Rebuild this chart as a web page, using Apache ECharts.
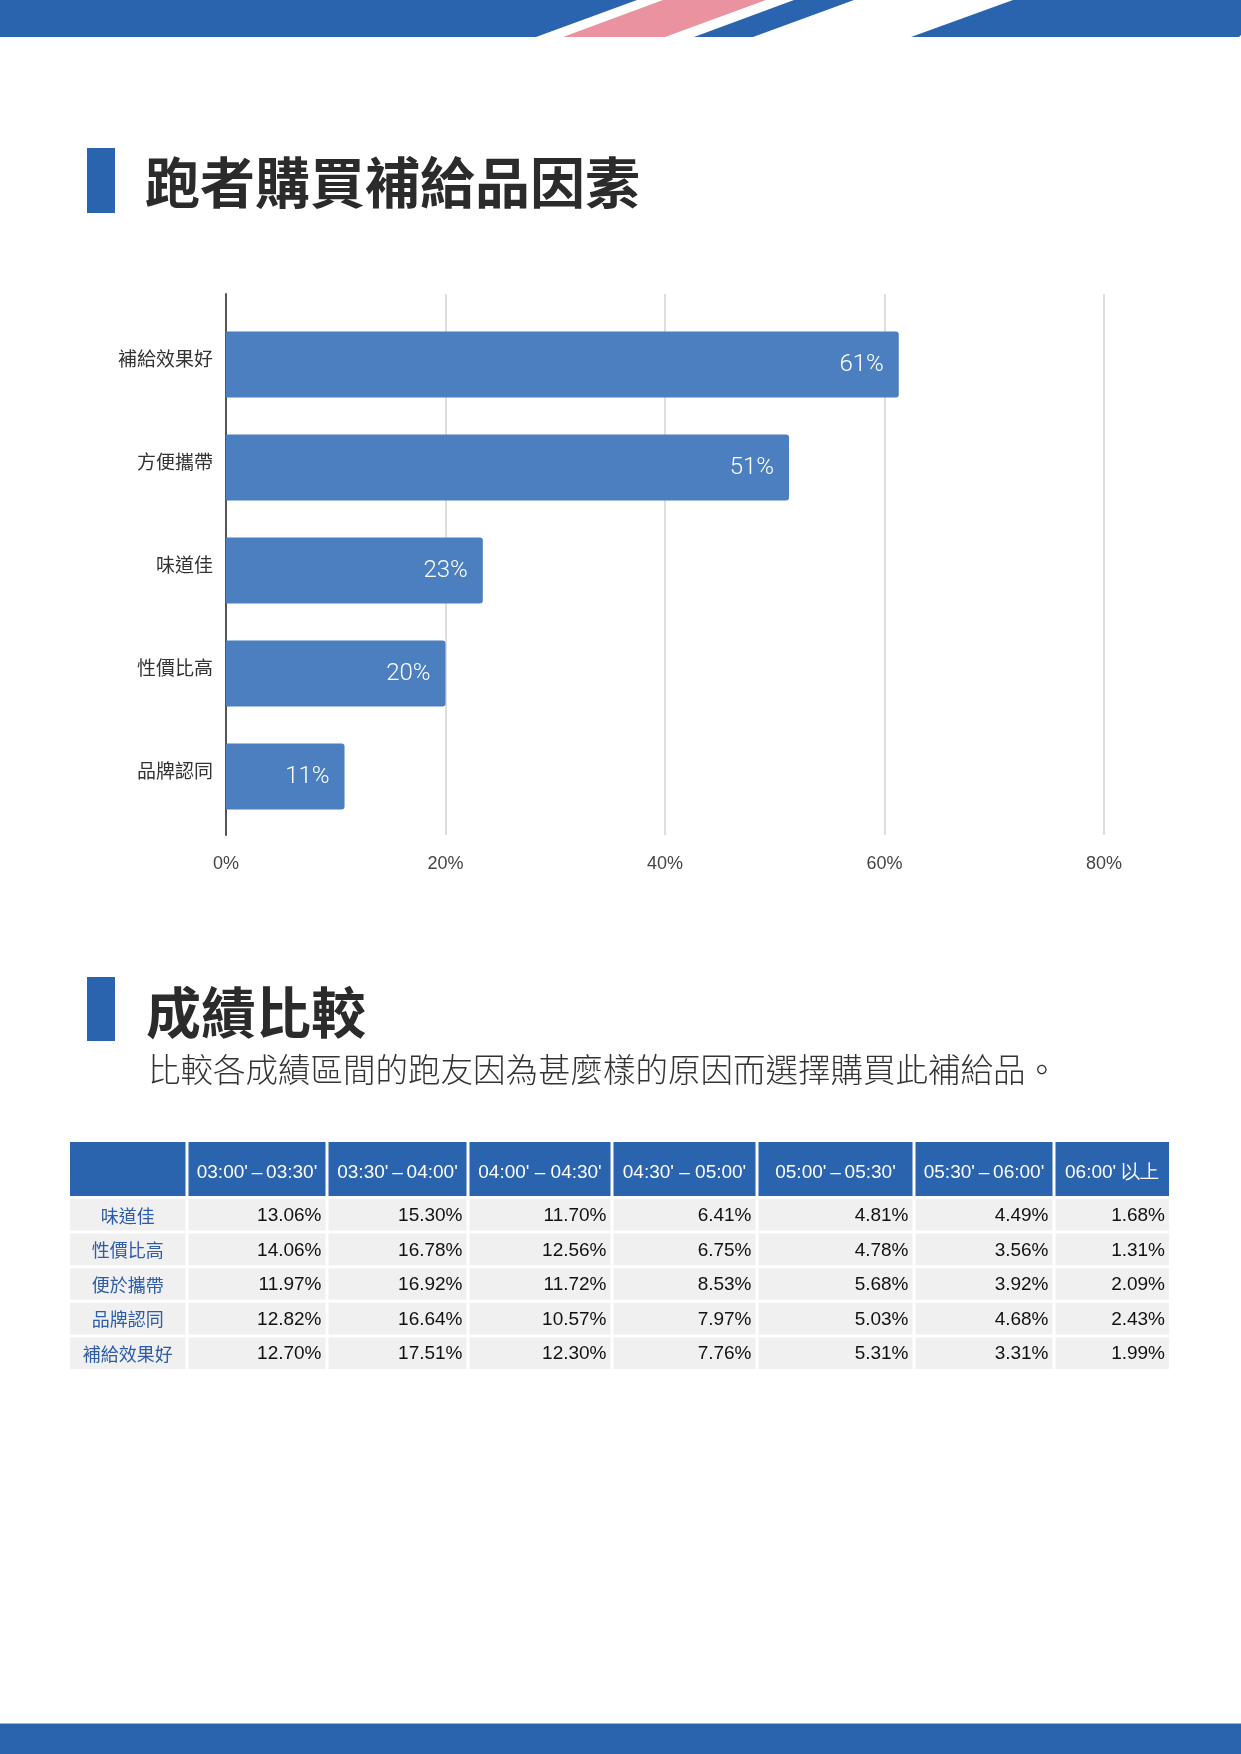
<!DOCTYPE html>
<html>
<head>
<meta charset="utf-8">
<script src="https://cdn.jsdelivr.net/npm/echarts@6/dist/echarts.min.js"></script>
<style>
html,body{margin:0;padding:0;background:#fff;}
#c{width:1241px;height:1754px;}
</style>
</head>
<body>
<div id="c"></div>
<script>
// ---------- data ----------
const factorCategories = ['補給效果好', '方便攜帶', '味道佳', '性價比高', '品牌認同'];
const factorValues = [61.3, 51.3, 23.4, 20.0, 10.8];
const axisTicks = [0, 20, 40, 60, 80];

const timeBands = ["03:00'\u2009–\u200903:30'", "03:30'\u2009–\u200904:00'", "04:00' – 04:30'", "04:30' – 05:00'", "05:00'\u2009–\u200905:30'", "05:30'\u2009–\u200906:00'", "06:00' 以上"];
const tableRows = ['味道佳', '性價比高', '便於攜帶', '品牌認同', '補給效果好'];
const rowTaste   = ['13.06%', '15.30%', '11.70%', '6.41%', '4.81%', '4.49%', '1.68%'];
const rowValue   = ['14.06%', '16.78%', '12.56%', '6.75%', '4.78%', '3.56%', '1.31%'];
const rowCarry   = ['11.97%', '16.92%', '11.72%', '8.53%', '5.68%', '3.92%', '2.09%'];
const rowBrand   = ['12.82%', '16.64%', '10.57%', '7.97%', '5.03%', '4.68%', '2.43%'];
const rowEffect  = ['12.70%', '17.51%', '12.30%', '7.76%', '5.31%', '3.31%', '1.99%'];
const tableValues = [rowTaste, rowValue, rowCarry, rowBrand, rowEffect];

// ---------- layout (not data) ----------
const BLUE = '#2a63ae';
const colEdges = [0, 117, 257, 398, 542, 687, 844, 984, 1099];
const headerH = 54, bodyTop = 57, rowPitch = 34.6, rowH = 31.6;

// build table cells
const cells = [];
timeBands.forEach((t, c) => cells.push({ value: [c + 1, 0], kind: 'head', text: t }));
cells.push({ value: [0, 0], kind: 'head', text: '' });
tableRows.forEach((name, r) => {
  cells.push({ value: [0, r + 1], kind: 'label', text: name });
  tableValues[r].forEach((v, c) => cells.push({ value: [c + 1, r + 1], kind: 'num', text: v }));
});

const chart = echarts.init(document.getElementById('c'), null, { renderer: 'canvas' });

function renderCell(params, api) {
  const cell = cells[params.dataIndex];
  const c = api.value(0), r = api.value(1);
  const x0 = colEdges[c] + (c > 0 ? 1.5 : 0);
  const x1 = colEdges[c + 1] - (c < colEdges.length - 2 ? 1.5 : 0);
  let y0, y1;
  if (r === 0) { y0 = 0; y1 = headerH; } else { y0 = bodyTop + (r - 1) * rowPitch; y1 = y0 + rowH; }
  const p0 = api.coord([x0, y0]);
  const p1 = api.coord([x1, y1]);
  const w = p1[0] - p0[0], h = p1[1] - p0[1];
  const children = [{
    type: 'rect',
    shape: { x: p0[0], y: p0[1], width: w, height: h },
    style: { fill: cell.kind === 'head' ? BLUE : '#f0f0f0' }
  }];
  if (cell.text) {
    let tx, align, fill, font;
    if (cell.kind === 'head') {
      tx = p0[0] + w / 2; align = 'center'; fill = '#ffffff';
      font = '19px "Liberation Sans", Arial, sans-serif';
    } else if (cell.kind === 'label') {
      tx = p0[0] + w / 2; align = 'center'; fill = '#2e5ca8';
      font = '18px "Noto Sans CJK TC", sans-serif';
    } else {
      tx = p1[0] - 4; align = 'right'; fill = '#111111';
      font = '19px "Liberation Sans", Arial, sans-serif';
    }
    const ty = p0[1] + h / 2 + (cell.kind === 'head' ? 4 : 1);
    children.push({
      type: 'text',
      style: { x: tx, y: ty, text: cell.text, fill: fill, font: font, align: align, verticalAlign: 'middle' }
    });
  }
  return { type: 'group', children: children };
}

function txt(x, y, text, font, fill) {
  return { type: 'text', x: x, y: y, style: { text: text, font: font, fill: fill, align: 'left', verticalAlign: 'middle' } };
}

const option = {
  animation: false,
  backgroundColor: '#ffffff',
  graphic: [
    { type: 'polygon', shape: { points: [[0, 0], [637, 0], [536, 37], [0, 37]] }, style: { fill: BLUE } },
    { type: 'polygon', shape: { points: [[663, 0], [766, 0], [665, 37], [563, 37]] }, style: { fill: '#ea929f' } },
    { type: 'polygon', shape: { points: [[794, 0], [854, 0], [753, 37], [694, 37]] }, style: { fill: BLUE } },
    { type: 'polygon', shape: { points: [[1013, 0], [1241, 0], [1241, 35], [1239, 37], [911, 37]] }, style: { fill: BLUE } },
    { type: 'rect', shape: { x: 0, y: 1723, width: 1241, height: 1 }, style: { fill: '#9fb4d9' } },
    { type: 'rect', shape: { x: 0, y: 1724, width: 1241, height: 30 }, style: { fill: BLUE } },
    { type: 'rect', shape: { x: 87, y: 148, width: 28, height: 65 }, style: { fill: BLUE } },
    txt(145, 182, '跑者購買補給品因素', 'bold 55px "Noto Sans CJK TC", sans-serif', '#2b2b2b'),
    { type: 'rect', shape: { x: 87, y: 977, width: 28, height: 64 }, style: { fill: BLUE } },
    txt(146, 1012, '成績比較', 'bold 55px "Noto Sans CJK TC", sans-serif', '#2b2b2b'),
    txt(148, 1070, '比較各成績區間的跑友因為甚麼樣的原因而選擇購買此補給品。', '300 32.5px "Noto Sans CJK TC", sans-serif', '#333333')
  ],
  grid: [
    { left: 226, right: 137, top: 294, height: 541 },
    { left: 226, right: 137, top: 313, height: 515 },
    { left: 70, width: 1099, top: 1142, height: 229 }
  ],
  xAxis: [
    {
      gridIndex: 0, type: 'value', min: axisTicks[0], max: axisTicks[axisTicks.length - 1], interval: 20,
      axisLine: { show: false }, axisTick: { show: false },
      axisLabel: { formatter: '{value}%', fontSize: 18, color: '#444', margin: 20, fontFamily: '"Liberation Sans Narrow", "Liberation Sans", sans-serif' },
      splitLine: { show: true, lineStyle: { color: '#d3d3d3', width: 1.5 } }
    },
    { gridIndex: 1, type: 'value', min: 0, max: 80, show: false, splitLine: { show: false } },
    { gridIndex: 2, type: 'value', min: 0, max: 1099, show: false, splitLine: { show: false } }
  ],
  yAxis: [
    {
      gridIndex: 0, type: 'value', min: 0, max: 1,
      axisLine: { show: true, onZero: false, lineStyle: { color: '#555', width: 2 } },
      axisTick: { show: false }, axisLabel: { show: false }, splitLine: { show: false }
    },
    {
      gridIndex: 1, type: 'category', data: factorCategories, inverse: true,
      axisLine: { show: false }, axisTick: { show: false },
      axisLabel: {
        margin: 13,
        formatter: v => '{a|' + v + '}',
        rich: { a: { fontSize: 19, color: '#333', padding: [0, 0, 11, 0], fontFamily: '"Noto Sans CJK TC", sans-serif' } }
      }
    },
    { gridIndex: 2, type: 'value', min: 0, max: 229, inverse: true, show: false, splitLine: { show: false } }
  ],
  series: [
    { type: 'bar', xAxisIndex: 0, yAxisIndex: 0, data: [] },
    {
      type: 'bar', xAxisIndex: 1, yAxisIndex: 1, data: factorValues, barWidth: 66,
      itemStyle: { color: '#4b7fc0', borderRadius: [0, 3, 3, 0] },
      label: {
        show: true, position: 'insideRight', distance: 15, color: '#fff', fontSize: 24, fontWeight: 300,
        fontFamily: 'Roboto, "Noto Sans", sans-serif',
        formatter: p => Math.round(p.value) + '%'
      }
    },
    {
      type: 'custom', xAxisIndex: 2, yAxisIndex: 2, renderItem: renderCell,
      data: cells.map(c => c.value), silent: true
    }
  ]
};
chart.setOption(option);
</script>
</body>
</html>
